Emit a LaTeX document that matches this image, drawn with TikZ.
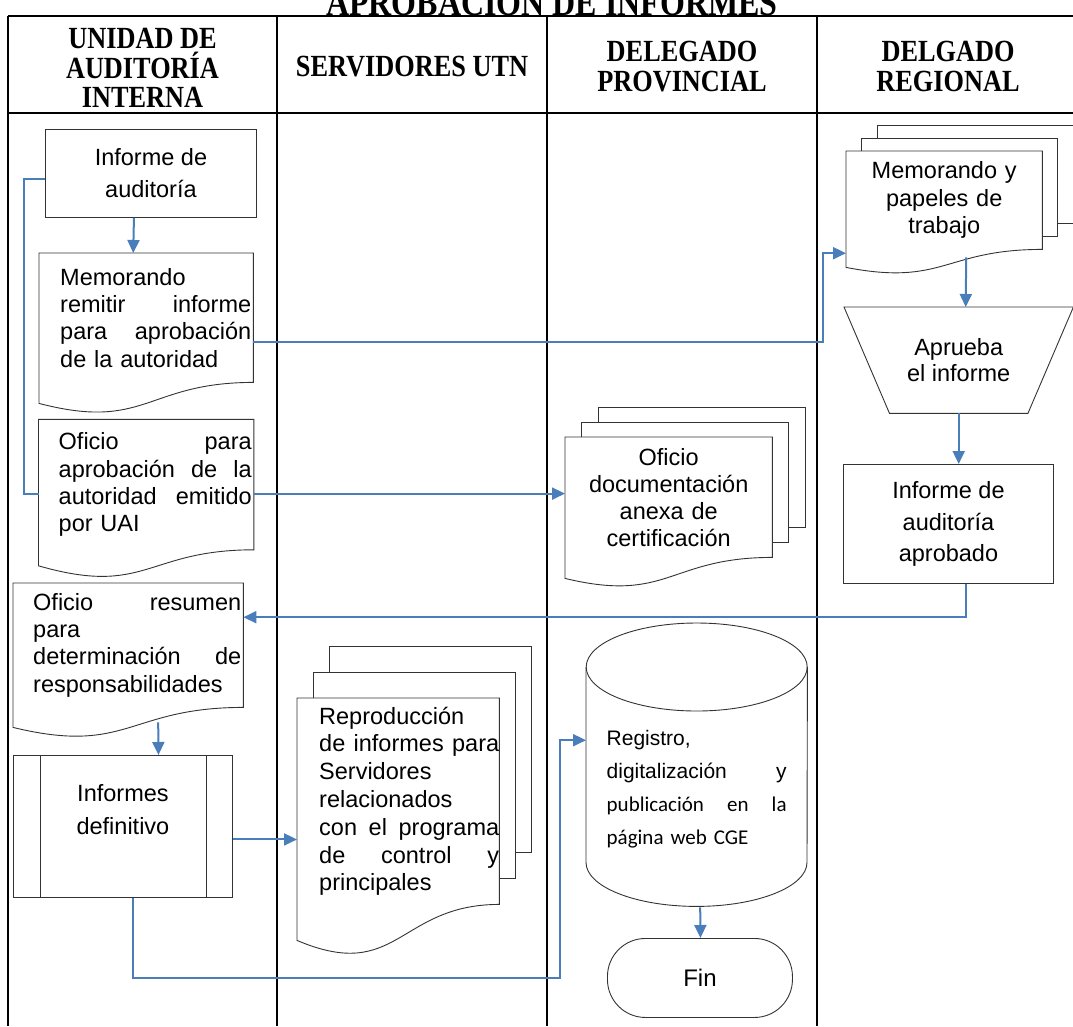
\documentclass[tikz,border=0pt]{standalone}
\usepackage{fontspec}
\setmainfont{Liberation Sans}
\newfontfamily\tnr{Liberation Serif}
\newfontfamily\calibri{Carlito}
\usetikzlibrary{positioning,calc,arrows.meta}
\definecolor{flowblue}{RGB}{74,126,187}

\newcommand{\fs}[2]{\fontsize{#1}{#2}\selectfont}
\newcommand{\lpad}[1]{\leftskip=#1pt\relax}
\newcommand{\headbox}[1]{\scalebox{1}[1.17]{\parbox{250pt}{\centering\lineskiplimit=-50pt #1}}}
% document outline: node, left drop, control depth
\newcommand{\docout}[3]{%
  \draw[box] (#1.north west) -- (#1.north east) -- (#1.south east)
    .. controls (#1.south) and ($(#1.south)+(0,#3)$) .. ($(#1.south west)+(0,#2)$) -- cycle;}
% stacked documents: node, dx, dy, left drop, control depth
\newcommand{\multiout}[5]{%
  \docout{#1}{#4}{#5}
  \draw[box] ($(#1.north west)+(#2,0)$) -- ++(0,-#3) -| ($(#1.south east)+(#2,-#3)$) -- ($(#1.south east)+(0,-#3)$);
  \draw[box] ($(#1.north west)+(2*#2,-#3)$) -- ++(0,-#3) -| ($(#1.south east)+(2*#2,-2*#3)$) -- ($(#1.south east)+(#2,-2*#3)$);}

\tikzset{
  lane/.style={line width=2pt},
  box/.style={draw=black!80, line width=0.9pt},
  txt/.style={font=\fs{23.5}{27.3}},
  docu/.style={txt, inner xsep=2pt, inner ysep=0pt, align=left},
  docc/.style={txt, inner xsep=2pt, inner ysep=0pt, align=center},
  proc/.style={box, txt, inner sep=0pt, align=center},
  head/.style={font=\tnr\bfseries\fs{26.3}{25}, inner sep=0pt, align=center},
  flow/.style={draw=flowblue, line width=2pt, -{Triangle[length=13pt,width=12pt]}},
  link/.style={draw=flowblue, line width=2pt},
}

\begin{document}
\begin{tikzpicture}[x=1pt, y=-1pt]
  \useasboundingbox (0,0) rectangle (1073,1026);

  % lanes
  \node[head, font=\tnr\bfseries\fs{32}{36}, anchor=base] (title) at (552,15) {\scalebox{1}[1.17]{APROBACIÓN DE INFORMES}};
  \draw[lane] (8,16) -- (1073,16);
  \draw[lane] (8,113) -- (1073,113);
  \foreach \x in {8,277,547,817}
    \draw[lane] (\x,16) -- (\x,1026);
  \node[head] (hUAI) at (142.5,68) {\headbox{UNIDAD DE\\AUDITORÍA\\INTERNA}};
  \node[head] (hSrv) at (412,66.5) {\headbox{SERVIDORES UTN}};
  \node[head] (hProv) at (682,66.5) {\headbox{DELEGADO\\PROVINCIAL}};
  \node[head] (hReg) at (948,66.5) {\headbox{DELGADO\\REGIONAL}};

  % unidad de auditoria interna
  \node[proc, font=\fs{23.5}{32}, minimum width=211pt, minimum height=88pt, anchor=north west] (inf) at (45,129) {Informe de\\ auditoría};
  \node[docu, minimum width=214pt, minimum height=129pt, text width=210pt, anchor=north west] (memo) at (39,253)
    {\lpad{19}Memorando\\ remitir\hfill informe\\ para\hfill aprobación\\ de la autoridad\par};
  \docout{memo}{21}{49}
  \node[docu, minimum width=215pt, minimum height=130pt, text width=211pt, below=37pt of memo] (ofi)
    {\lpad{18}Oficio\hfill para\\ aprobación\hfill de\hfill la\\ autoridad\hfill emitido\\ por UAI\par};
  \docout{ofi}{16}{47}
  \node[docu, minimum width=230pt, minimum height=124pt, text width=226pt, anchor=north west] (res) at (13,583)
    {\lpad{18}Oficio\hfill resumen\\ para\\ determinación\hfill de\\ responsabilidades\par};
  \docout{res}{20}{48}
  \node[proc, font=\fs{23.5}{33}, minimum width=219pt, minimum height=142pt, anchor=north west] (idef) at (13,755) {Informes\\ definitivo\\ \mbox{}};
  \draw[box] ($(idef.north west)+(27,0)$) -- ($(idef.south west)+(27,0)$);
  \draw[box] ($(idef.north east)+(-26,0)$) -- ($(idef.south east)+(-26,0)$);

  % servidores utn
  \node[docu, font=\fs{23.5}{27.8}, minimum width=202pt, minimum height=206pt, text width=202pt, inner xsep=0pt, anchor=north west] (rep) at (297,698)
    {\lpad{22}Reproducción\\ de\hfill informes\hfill para\\ Servidores\\ relacionados\\ con\hfill el\hfill programa\\ de\hfill control\hfill y\\ principales\par};
  \multiout{rep}{16}{26}{36}{79}

  % delegado provincial
  \node[docc, font=\fs{23.5}{27}, minimum width=207pt, minimum height=120pt, text width=203pt, anchor=north west] (ofd) at (565,437)
    {Oficio\\ documentación\\ anexa de\\ certificación};
  \multiout{ofd}{16.5}{15}{21}{46}
  \node[txt, font=\fs{21}{32.7}, text width=180pt, inner xsep=20.5pt, inner ysep=0pt, minimum width=221pt, minimum height=196pt, align=left, anchor=north west] (reg) at (586,691)
    {Registro,\\ digitalización\hfill y\\ {\calibri publicación\hfill en\hfill la}\\ {\calibri página web CGE}\par};
  \draw[box] ($(reg.north west)+(0,-24)$) -- ($(reg.south west)+(0,-25)$)
    arc[start angle=180, end angle=0, x radius=110.5, y radius=44] -- ($(reg.north east)+(0,-24)$);
  \draw[box] ($(reg.north)+(0,-24)$) ellipse[x radius=110.5, y radius=44];
  \node[proc, font=\fs{24}{28}, rounded corners=38pt, minimum width=185pt, minimum height=79pt, anchor=north west] (fin) at (607,938) {Fin};

  % delegado regional
  \node[docc, font=\fs{23.5}{27.5}, minimum width=196pt, minimum height=98pt, text width=192pt, anchor=north west] (mem) at (846,151)
    {Memorando y\\ papeles de\\ trabajo};
  \multiout{mem}{15.5}{13}{18}{37}
  \node[txt, font=\fs{23.5}{26.5}, inner sep=0pt, align=center, minimum width=229pt, minimum height=106pt, anchor=north west] (apr) at (844,307) {Aprueba\\ el informe};
  \draw[box] (apr.north west) -- (apr.north east) -- ($(apr.south east)+(-45.5,0)$) -- ($(apr.south west)+(45.5,0)$) -- cycle;
  \node[proc, font=\fs{23.5}{31.5}, minimum width=210pt, minimum height=119pt, anchor=north west] (iaa) at (843,464) {Informe de\\ auditoría\\ aprobado};

  % connectors
  \draw[flow] ($(inf.south)+(-17,0)$) -- ($(memo.north)+(-13,0)$);
  \draw[link] ($(inf.west)+(0,6)$) -| ($(ofi.west)+(-15,9)$) -- ($(ofi.west)+(0,9)$);
  \draw[flow] ($(memo.east)+(0,24.5)$) -| ($(mem.west)+(-23,53)$) -- ($(mem.west)+(0,53)$);
  \draw[flow] ($(ofi.east)+(0,9)$) coordinate (o1) -- (o1 -| ofd.west);
  \draw[flow] ($(mem.south)+(22,8)$) -- ($(apr.north)+(7,0)$);
  \draw[flow] (apr.south) -- (apr.south |- iaa.north);
  \draw[flow] ($(iaa.south)+(18,0)$) |- ($(res.east)+(0,-28)$);
  \draw[flow] ($(res.south)+(30,15)$) -- ($(idef.north)+(35.5,0)$);
  \draw[flow] ($(idef.east)+(0,13)$) coordinate (d1) -- (d1 -| rep.west);
  \coordinate (turn) at (560,978);
  \draw[flow] ($(idef.south)+(10.5,0)$) |- (turn) |- ($(reg.west)+(0,-49)$);
  \draw[flow] ($(reg.south)+(3.5,20)$) -- ($(fin.north)+(0.5,0)$);
\end{tikzpicture}
\end{document}
